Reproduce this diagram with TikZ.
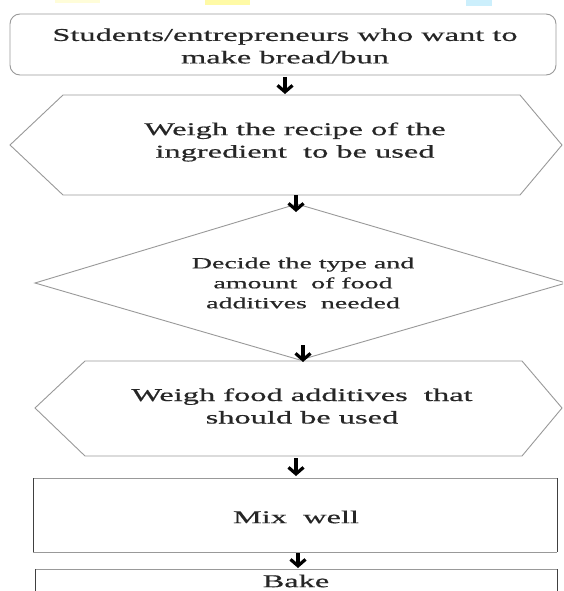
\documentclass[tikz,border=0pt]{standalone}
\usepackage{fontspec}
\setmainfont{Liberation Serif}
\newfontfamily\wideserif[FakeStretch=1.8,FakeBold=0.6]{Liberation Serif}
\usetikzlibrary{arrows.meta}
\begin{document}
\begin{tikzpicture}[x=1pt,y=-1pt,
  shapeline/.style={draw=black!40, line width=0.9pt},
  sideline/.style={draw=black!75, line width=0.9pt},
  boxtext/.style={font=\wideserif\fontsize{18}{22.5}\selectfont, align=center, text=black!85},
  smalltext/.style={font=\wideserif\fontsize{15.5}{20}\selectfont, align=center, text=black!85},
  flowarrow/.style={draw=black, line width=3.2pt, -{Straight Barb[length=6.5pt,width=15pt]}}]
\useasboundingbox (0,0) rectangle (563,591);
\clip (0,0) rectangle (563,591);
\fill[white] (0,0) rectangle (563,591);
% faint colour marks along the top edge
\fill[yellow!15] (55,0) rectangle (100,3);
\fill[yellow!35] (205,0) rectangle (250,5);
\fill[cyan!20] (466,0) rectangle (492,6);
% shapes
\draw[shapeline, rounded corners=10pt] (10,14) rectangle (556,75);
\draw[shapeline] (10,145) -- (63,95) -- (520,95) -- (562,145) -- (520,195) -- (63,195) -- cycle;
\draw[shapeline] (297,204) -- (566,283) -- (300,360) -- (35,283) -- cycle;
\draw[shapeline] (35,408) -- (85,361) -- (522,361) -- (562,408) -- (522,456) -- (85,456) -- cycle;
\draw[shapeline] (33,478) -- (557,478) (33,552) -- (557,552);
\draw[sideline] (33,478) -- (33,552) (557,478) -- (557,552);
\draw[shapeline] (35,569) -- (557,569);
\draw[sideline] (35,569) -- (35,595) (557,569) -- (557,595);
% texts
\node[boxtext] (start) at (285,46) {Students/entrepreneurs who want to\\make bread/bun};
\node[boxtext] (weighrecipe) at (295,142) {Weigh the recipe of the\\ingredient\ \ to be used};
\node[smalltext] (decide) at (303,283) {Decide\ the\ type\ and\\amount\ \ of food\\additives\ \ needed};
\node[boxtext] (weighadd) at (302,406) {Weigh\ food additives\ \ that\\should be used};
\node[boxtext] (mix) at (296,517) {Mix\ \ well};
\node[boxtext, inner sep=0pt] (bake) at (296,581) {Bake};
% arrows
\coordinate (a1s) at (285,77);  \coordinate (a1e) at (285,94);
\coordinate (a2s) at (296,195); \coordinate (a2e) at (296,212);
\coordinate (a3s) at (303,345); \coordinate (a3e) at (303,362);
\coordinate (a4s) at (296,458); \coordinate (a4e) at (296,476);
\coordinate (a5s) at (298,553); \coordinate (a5e) at (298,568);
\draw[flowarrow] (a1s) -- (a1e);
\draw[flowarrow] (a2s) -- (a2e);
\draw[flowarrow] (a3s) -- (a3e);
\draw[flowarrow] (a4s) -- (a4e);
\draw[flowarrow] (a5s) -- (a5e);
\end{tikzpicture}
\end{document}
